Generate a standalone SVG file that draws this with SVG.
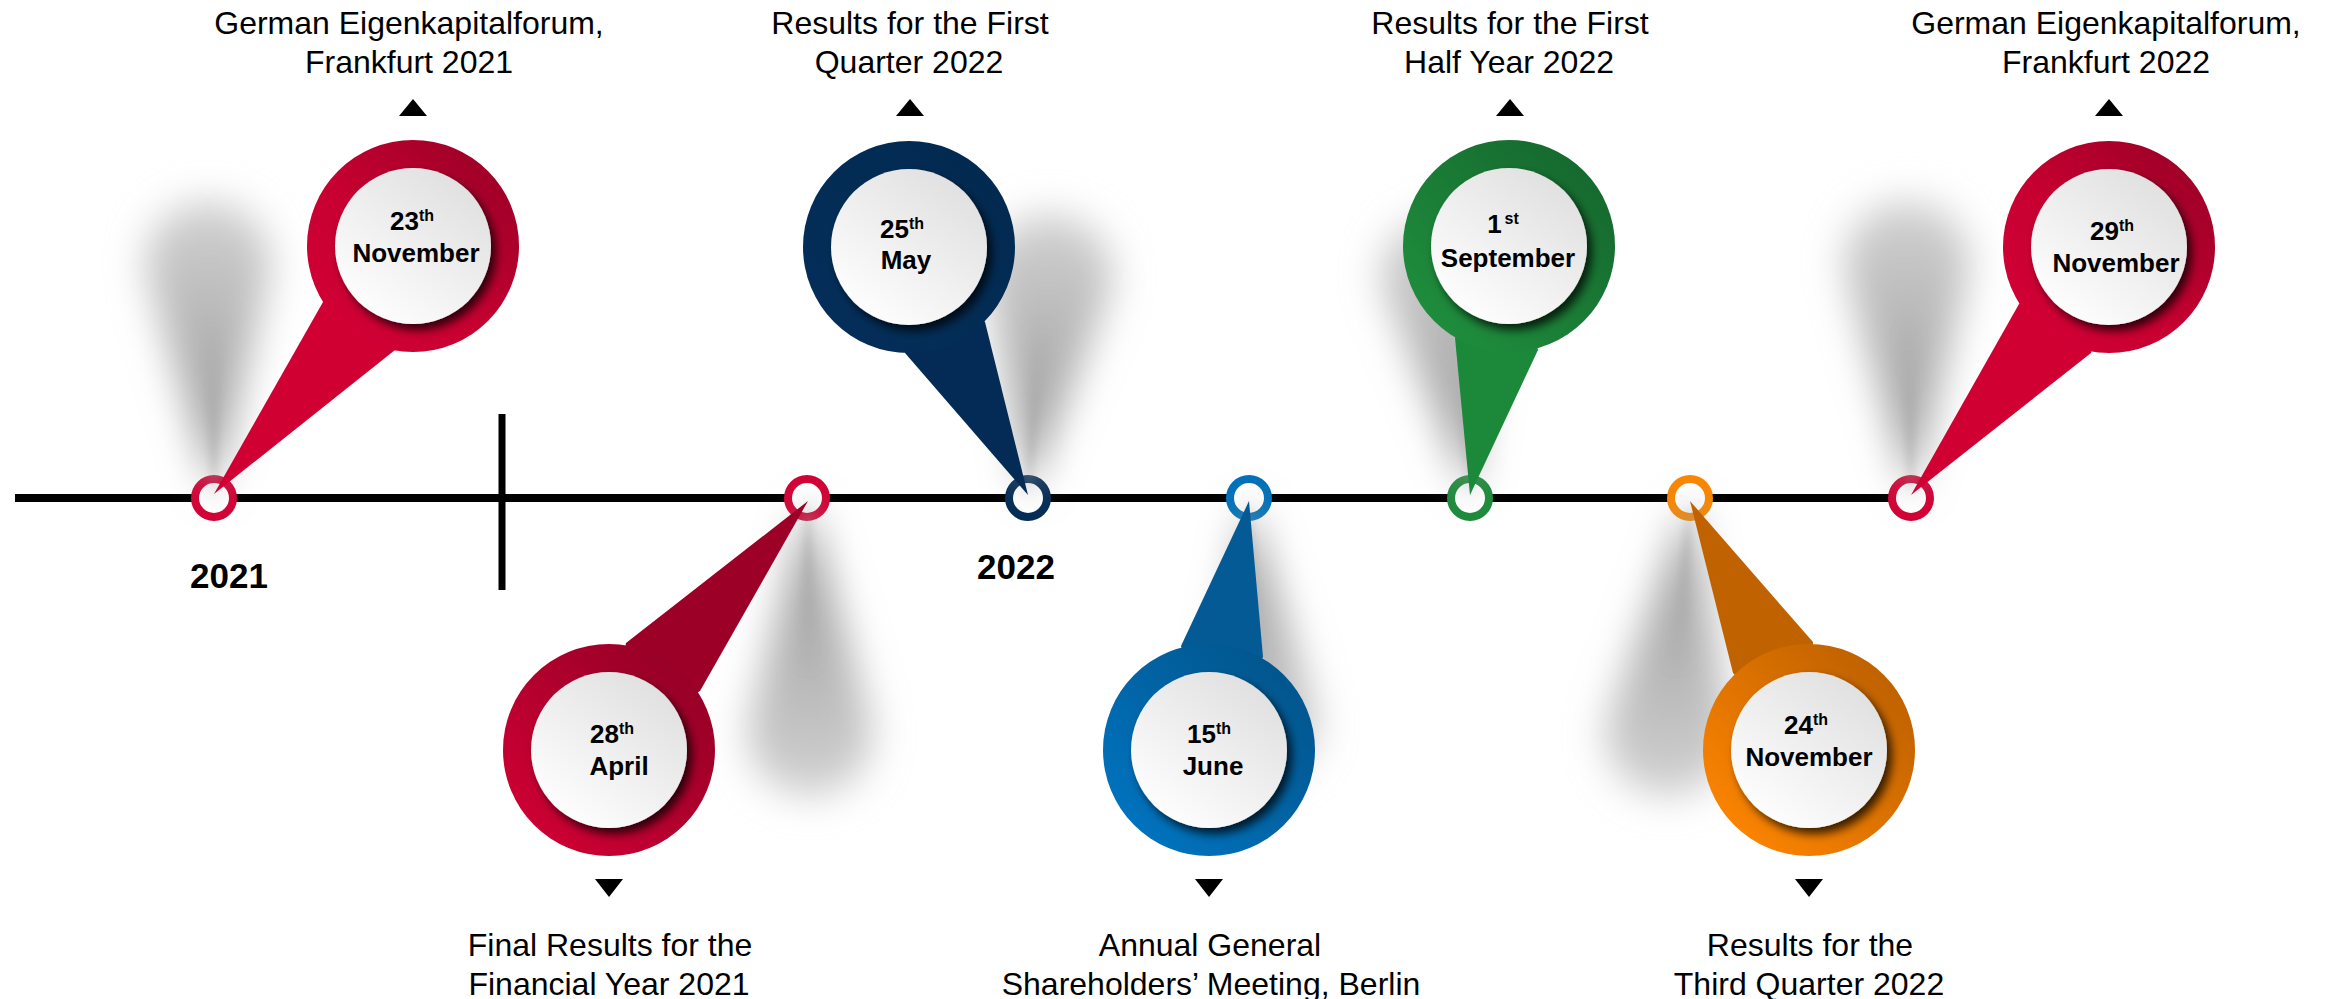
<svg xmlns="http://www.w3.org/2000/svg" width="2328" height="999" viewBox="0 0 2328 999">
  <defs>
    <style>
      .lbl{font-family:"Liberation Sans",Arial,sans-serif;font-size:32px;fill:#000;text-anchor:middle}
      .date{font-family:"Liberation Sans",Arial,sans-serif;font-weight:bold;font-size:26px;fill:#000;text-anchor:middle}
      .sup{font-size:16px}
      .year{font-family:"Liberation Sans",Arial,sans-serif;font-weight:bold;font-size:35px;fill:#000;text-anchor:middle}
      .ring{fill:#fff;stroke-width:8}
      .disc{fill:url(#gWhite);filter:url(#discShadow)}
      .arrow{fill:#000}
      .drop-up{fill:url(#gShadeUp);filter:url(#softWide)}
      .drop-down{fill:url(#gShadeDown);filter:url(#softWide)}
      .core-up{fill:url(#gCoreUp);filter:url(#softNarrow)}
      .core-down{fill:url(#gCoreDown);filter:url(#softNarrow)}
    </style>
    <linearGradient id="gRed" x1="0.15" y1="0.85" x2="0.85" y2="0.15">
      <stop offset="0" stop-color="#D10034"/>
      <stop offset="0.45" stop-color="#C60031"/>
      <stop offset="1" stop-color="#A10028"/>
    </linearGradient>
    <linearGradient id="gDarkRed" x1="0.15" y1="0.85" x2="0.85" y2="0.15">
      <stop offset="0" stop-color="#CC0033"/>
      <stop offset="1" stop-color="#980027"/>
    </linearGradient>
    <linearGradient id="gNavy" x1="0.15" y1="0.85" x2="0.85" y2="0.15">
      <stop offset="0" stop-color="#042E59"/>
      <stop offset="1" stop-color="#022A51"/>
    </linearGradient>
    <linearGradient id="gBlue" x1="0.15" y1="0.85" x2="0.85" y2="0.15">
      <stop offset="0" stop-color="#0072BD"/>
      <stop offset="1" stop-color="#02568E"/>
    </linearGradient>
    <linearGradient id="gGreen" x1="0.15" y1="0.85" x2="0.85" y2="0.15">
      <stop offset="0" stop-color="#1E8C3C"/>
      <stop offset="1" stop-color="#166A2F"/>
    </linearGradient>
    <linearGradient id="gOrange" x1="0.15" y1="0.85" x2="0.85" y2="0.15">
      <stop offset="0" stop-color="#FA8300"/>
      <stop offset="1" stop-color="#C06200"/>
    </linearGradient>
    <linearGradient id="gWhite" x1="0.2" y1="0.9" x2="0.8" y2="0.1">
      <stop offset="0" stop-color="#FDFDFD"/>
      <stop offset="1" stop-color="#E1E1E1"/>
    </linearGradient>
    <!-- shadow shading: darker near the tip, lighter at the rounded end -->
    <linearGradient id="gShadeUp" x1="0" y1="1" x2="0" y2="0">
      <stop offset="0" stop-color="#9a9a9a"/>
      <stop offset="0.5" stop-color="#b2b2b2"/>
      <stop offset="1" stop-color="#d2d2d2"/>
    </linearGradient>
    <linearGradient id="gShadeDown" x1="0" y1="0" x2="0" y2="1">
      <stop offset="0" stop-color="#9a9a9a"/>
      <stop offset="0.5" stop-color="#b2b2b2"/>
      <stop offset="1" stop-color="#d2d2d2"/>
    </linearGradient>
    <linearGradient id="gCoreUp" x1="0" y1="1" x2="0" y2="0">
      <stop offset="0" stop-color="#8c8c8c" stop-opacity="0.7"/>
      <stop offset="1" stop-color="#a8a8a8" stop-opacity="0"/>
    </linearGradient>
    <linearGradient id="gCoreDown" x1="0" y1="0" x2="0" y2="1">
      <stop offset="0" stop-color="#8c8c8c" stop-opacity="0.7"/>
      <stop offset="1" stop-color="#a8a8a8" stop-opacity="0"/>
    </linearGradient>
    <filter id="discShadow" x="-30%" y="-30%" width="160%" height="160%">
      <feDropShadow dx="5" dy="6" stdDeviation="5" flood-color="#000" flood-opacity="0.75"/>
    </filter>
    <filter id="softWide" x="-100%" y="-100%" width="300%" height="300%">
      <feGaussianBlur stdDeviation="19"/>
    </filter>
    <filter id="softNarrow" x="-100%" y="-100%" width="300%" height="300%">
      <feGaussianBlur stdDeviation="5"/>
    </filter>
  </defs>

  <rect width="2328" height="999" fill="#fff"/>

  <!-- timeline axis, year divider, year labels and event rings -->
  <g id="timeline">
    <line x1="15" y1="498" x2="1905" y2="498" stroke="#000" stroke-width="8"/>
    <line x1="502" y1="414" x2="502" y2="590" stroke="#000" stroke-width="7"/>
    <text class="year" x="229" y="588">2021</text>
    <text class="year" x="1016" y="579">2022</text>
    <circle class="ring" cx="214" cy="498" r="19" stroke="#D20034"/>
    <circle class="ring" cx="807" cy="498" r="19" stroke="#D20034"/>
    <circle class="ring" cx="1028" cy="498" r="19" stroke="#032B55"/>
    <circle class="ring" cx="1249" cy="498" r="19" stroke="#0070BA"/>
    <circle class="ring" cx="1470" cy="498" r="19" stroke="#1C8A3A"/>
    <circle class="ring" cx="1690" cy="498" r="19" stroke="#F98600"/>
    <circle class="ring" cx="1911" cy="498" r="19" stroke="#D20034"/>
  </g>

  <!-- soft teardrop shadows cast by the pins -->
  <g id="shadows">
    <path class="drop-up" d="M214,496 L148,278 A62 62 0 1 1 268,278 Z"/>
    <path class="core-up" d="M214,496 L200,320 L226,320 Z"/>

    <path class="drop-up" d="M1028,496 L990,291 A62 62 0 1 1 1110,291 Z"/>
    <path class="core-up" d="M1028,496 L1028,320 L1052,320 Z"/>

    <path class="drop-up" d="M1470,496 L1384,290 A58 58 0 1 1 1496,290 Z"/>
    <path class="core-up" d="M1470,496 L1444,325 L1468,325 Z"/>

    <path class="drop-up" d="M1911,496 L1847,278 A62 62 0 1 1 1967,278 Z"/>
    <path class="core-up" d="M1911,496 L1897,320 L1921,320 Z"/>

    <path class="drop-down" d="M808,500 L750,719 A62 62 0 1 0 870,719 Z"/>
    <path class="core-down" d="M808,500 L796,675 L820,675 Z"/>

    <path class="drop-down" d="M1249,500 L1211,706 A54 54 0 1 0 1313,706 Z"/>
    <path class="core-down" d="M1249,500 L1245,670 L1267,670 Z"/>

    <path class="drop-down" d="M1690,500 L1608,719 A62 62 0 1 0 1728,719 Z"/>
    <path class="core-down" d="M1690,500 L1666,675 L1690,675 Z"/>
  </g>

  <!-- pointer tails joining each pin to its ring -->
  <g id="connectors">
    <polygon points="214,494 323,302 413,246 395,350" fill="#D00033"/>
    <polygon points="1028,495 905,353 909,247 985,322" fill="#032B55"/>
    <polygon points="1470,495 1455,338 1509,246 1538,350" fill="#1B883A"/>
    <polygon points="1911,495 2019,304 2109,247 2091,353" fill="#D00033"/>
    <polygon points="808,501 626,643 609,750 700,691" fill="#9C0027"/>
    <polygon points="1249,501 1181,646 1209,750 1263,657" fill="#035A94"/>
    <polygon points="1690,501 1733,673 1809,750 1813,642" fill="#C06200"/>
  </g>

  <g id="pin-2021-11-23">
    <circle cx="413" cy="246" r="106" fill="url(#gRed)"/>
    <circle class="disc" cx="413" cy="246" r="78"/>
    <text class="date" x="412" y="230">23<tspan class="sup" dy="-9">th</tspan></text>
    <text class="date" x="416" y="262">November</text>
    <polygon class="arrow" points="399,116 427,116 413,99"/>
    <text class="lbl" x="409" y="34">German Eigenkapitalforum,</text>
    <text class="lbl" x="409" y="73">Frankfurt 2021</text>
  </g>

  <g id="pin-2022-04-28">
    <circle cx="609" cy="750" r="106" fill="url(#gDarkRed)"/>
    <circle class="disc" cx="609" cy="750" r="78"/>
    <text class="date" x="612" y="743">28<tspan class="sup" dy="-9">th</tspan></text>
    <text class="date" x="619" y="775">April</text>
    <polygon class="arrow" points="595,879 623,879 609,897"/>
    <text class="lbl" x="610" y="956">Final Results for the</text>
    <text class="lbl" x="609" y="995">Financial Year 2021</text>
  </g>

  <g id="pin-2022-05-25">
    <circle cx="909" cy="247" r="106" fill="url(#gNavy)"/>
    <circle class="disc" cx="909" cy="247" r="78"/>
    <text class="date" x="902" y="238">25<tspan class="sup" dy="-9">th</tspan></text>
    <text class="date" x="906" y="269">May</text>
    <polygon class="arrow" points="896,116 924,116 910,99"/>
    <text class="lbl" x="910" y="34">Results for the First</text>
    <text class="lbl" x="909" y="73">Quarter 2022</text>
  </g>

  <g id="pin-2022-06-15">
    <circle cx="1209" cy="750" r="106" fill="url(#gBlue)"/>
    <circle class="disc" cx="1209" cy="750" r="78"/>
    <text class="date" x="1209" y="743">15<tspan class="sup" dy="-9">th</tspan></text>
    <text class="date" x="1213" y="775">June</text>
    <polygon class="arrow" points="1195,879 1223,879 1209,897"/>
    <text class="lbl" x="1210" y="956">Annual General</text>
    <text class="lbl" x="1211" y="995">Shareholders’ Meeting, Berlin</text>
  </g>

  <g id="pin-2022-09-01">
    <circle cx="1509" cy="246" r="106" fill="url(#gGreen)"/>
    <circle class="disc" cx="1509" cy="246" r="78"/>
    <text class="date" x="1503" y="233">1<tspan class="sup" dx="3" dy="-9">st</tspan></text>
    <text class="date" x="1508" y="267">September</text>
    <polygon class="arrow" points="1496,116 1524,116 1510,99"/>
    <text class="lbl" x="1510" y="34">Results for the First</text>
    <text class="lbl" x="1509" y="73">Half Year 2022</text>
  </g>

  <g id="pin-2022-11-24">
    <circle cx="1809" cy="750" r="106" fill="url(#gOrange)"/>
    <circle class="disc" cx="1809" cy="750" r="78"/>
    <text class="date" x="1806" y="734">24<tspan class="sup" dy="-9">th</tspan></text>
    <text class="date" x="1809" y="766">November</text>
    <polygon class="arrow" points="1795,879 1823,879 1809,897"/>
    <text class="lbl" x="1810" y="956">Results for the</text>
    <text class="lbl" x="1809" y="995">Third Quarter 2022</text>
  </g>

  <g id="pin-2022-11-29">
    <circle cx="2109" cy="247" r="106" fill="url(#gRed)"/>
    <circle class="disc" cx="2109" cy="247" r="78"/>
    <text class="date" x="2112" y="240">29<tspan class="sup" dy="-9">th</tspan></text>
    <text class="date" x="2116" y="272">November</text>
    <polygon class="arrow" points="2095,116 2123,116 2109,99"/>
    <text class="lbl" x="2106" y="34">German Eigenkapitalforum,</text>
    <text class="lbl" x="2106" y="73">Frankfurt 2022</text>
  </g>
</svg>
